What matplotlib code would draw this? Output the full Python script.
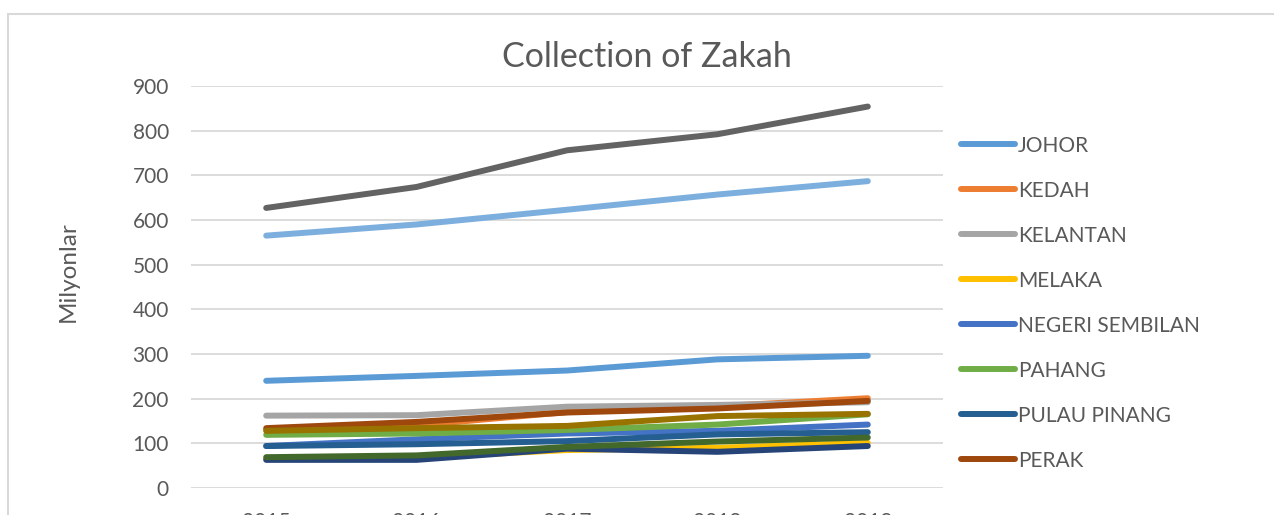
import matplotlib
matplotlib.use("Agg")
import matplotlib.pyplot as plt
from matplotlib.patches import Rectangle

# years on the category axis
years = ["2015", "2016", "2017", "2018", "2019"]

# zakah collection per state, in millions
johor = [240, 251, 263, 288, 296]
kedah = [130, 140, 170, 183, 201]
kelantan = [162, 163, 182, 186, 192]
melaka = [65, 68, 85, 90, 101]
negeri_sembilan = [94, 109, 122, 128, 142]
pahang = [119, 122, 130, 142, 165]
pulau_pinang = [94, 98, 105, 120, 125]
perak = [134, 148, 169, 178, 195]
selangor = [627, 674, 756, 792, 854]
terengganu = [128, 134, 139, 161, 166]
perlis = [63, 63, 88, 81, 94]
sarawak = [69, 73, 92, 104, 113]
wp = [565, 590, 623, 657, 687]

series = [
    ("JOHOR", johor, "#5B9BD5"),
    ("KEDAH", kedah, "#ED7D31"),
    ("KELANTAN", kelantan, "#A5A5A5"),
    ("MELAKA", melaka, "#FFC000"),
    ("NEGERI SEMBILAN", negeri_sembilan, "#4472C4"),
    ("PAHANG", pahang, "#70AD47"),
    ("PULAU PINANG", pulau_pinang, "#255E91"),
    ("PERAK", perak, "#9E480E"),
    ("SELANGOR", selangor, "#636363"),
    ("TERENGGANU", terengganu, "#997300"),
    ("PERLIS", perlis, "#264478"),
    ("SARAWAK", sarawak, "#43682B"),
    ("W. PERSEKUTUAN", wp, "#7CAFDD"),
]

txt = "#595959"
grid = "#D9D9D9"
plt.rcParams["font.family"] = ["Lato", "DejaVu Sans"]

W, H = 1274, 515
fig = plt.figure(figsize=(W / 100, H / 100), dpi=100)
ax = fig.add_axes([191 / W, (H - 488) / H, 752 / W, (488 - 86) / H])

x = list(range(len(years)))
handles = []
for name, vals, col in series:
    ln, = ax.plot(x, vals, color=col, lw=4.3, solid_capstyle="round",
                  solid_joinstyle="round", label=name)
    handles.append(ln)

ax.set_xlim(-0.5, len(years) - 0.5)
ax.set_ylim(0, 900)
ax.set_yticks(range(0, 901, 100))
ax.set_xticks(x)
ax.set_xticklabels(years)
ax.grid(axis="y", color=grid, lw=1.3)
ax.set_axisbelow(True)
for s in ax.spines.values():
    s.set_visible(False)
ax.tick_params(axis="both", length=0, labelsize=15, colors=txt)
ax.tick_params(axis="y", pad=16)
ax.tick_params(axis="x", pad=17)
ax.set_ylabel("Milyonlar", fontsize=17.5, color=txt, va="center")
ax.yaxis.set_label_coords((68 - 191) / 752, (488 - 272) / 402)

fig.text(647 / W, 1 - 57 / H, "Collection of Zakah", ha="center", va="center",
         fontsize=24.5, color=txt)

# only the first eight legend entries are visible in the chart
leg = fig.legend(handles=handles[:8], loc="upper left",
                 bbox_to_anchor=(942 / W, 1 - 117 / H), frameon=False,
                 fontsize=15, labelcolor=txt, handlelength=2.6,
                 handletextpad=0.15, labelspacing=1.2)

# outer chart border (runs off the right and bottom of the image)
fig.patches.append(Rectangle((8 / W, -0.2), 1.5, 1.2 - 14 / H,
                             transform=fig.transFigure, fill=False,
                             ec=grid, lw=1.5))

fig.savefig("out.png", dpi=100, facecolor="white")
